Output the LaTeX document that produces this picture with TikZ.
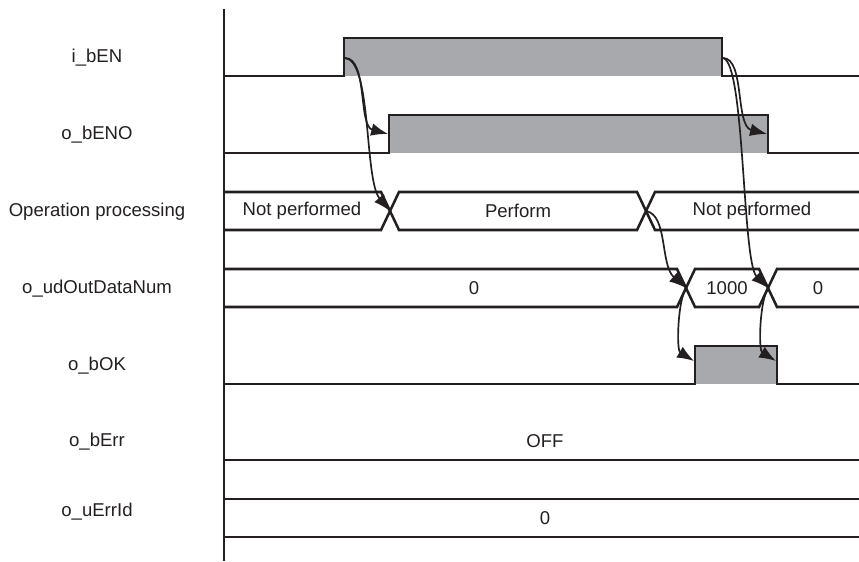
\documentclass[tikz,border=0pt]{standalone}
\usepackage{fontspec}
\setmainfont{Liberation Sans}
\usetikzlibrary{arrows.meta}
\definecolor{ink}{RGB}{35,31,32}
\definecolor{hifill}{RGB}{167,169,172}
\begin{document}
\begin{tikzpicture}[x=0.025cm, y=-0.025cm, color=ink, line width=1.8pt,
			sig/.style={font=\fontsize{13.2}{15}\selectfont},
			val/.style={font=\fontsize{13.2}{15}\selectfont},
			cause/.style={line width=1.2pt, -{Latex[length=12pt,width=9pt]}}]
			
			\useasboundingbox (0,0) rectangle (859,561);
			
			\node[sig] (en) at (97,58) {i\_bEN};
			\node[sig] (eno) at (97,135) {o\_bENO};
			\node[sig] (op) at (97,212) {Operation processing};
			\node[sig] (num) at (97,289) {o\_udOutDataNum};
			\node[sig] (ok) at (97,366) {o\_bOK};
			\node[sig] (err) at (97,442) {o\_bErr};
			\node[sig] (errid) at (97,512) {o\_uErrId};
			
			\fill[hifill] (344,38) rectangle (722,76);
			\fill[hifill] (389,115) rectangle (768,153);
			\fill[hifill] (695,346) rectangle (777,384);
			
			\draw (224,9) -- (224,561);
			
			\draw (224,76) -- (344,76) -- (344,38) -- (722,38) -- (722,76) -- (859,76);
			\draw (224,153) -- (389,153) -- (389,115) -- (768,115) -- (768,153) -- (859,153);
			\draw (224,192) -- (381,192) -- (399,230) -- (637,230) -- (655,192) -- (859,192);
			\draw (224,230) -- (381,230) -- (399,192) -- (637,192) -- (655,230) -- (859,230);
			\draw (224,269) -- (677,269) -- (695,307) -- (759,307) -- (777,269) -- (859,269);
			\draw (224,307) -- (677,307) -- (695,269) -- (759,269) -- (777,307) -- (859,307);
			\draw (224,384) -- (695,384) -- (695,346) -- (777,346) -- (777,384) -- (859,384);
			\draw (224,460) -- (859,460);
			\draw (224,499) -- (859,499);
			\draw (224,537) -- (859,537);
			
			\node[val] (opoff) at (302,211) {Not performed};
			\node[val] (opon) at (518,211) {Perform};
			\node[val] (opoff2) at (752,211) {Not performed};
			\node[val] (numzero) at (474,288) {0};
			\node[val] (numset) at (727,288) {1000};
			\node[val] (numzero2) at (818,288) {0};
			\node[val] (erroff) at (545,441) {OFF};
			\node[val] (idzero) at (545,518) {0};
			
			\coordinate (enRise) at (345,58);
			\coordinate (enFall) at (723,58);
			\coordinate (enoRise) at (388,134);
			\coordinate (enoFall) at (767,134);
			\coordinate (opStart) at (390,211);
			\coordinate (opEnd) at (646,211);
			\coordinate (numSet) at (686,288);
			\coordinate (numClr) at (768,288);
			\coordinate (okRise) at (694,361);
			\coordinate (okFall) at (776,361);
			
			\draw[cause] (enRise) .. controls (368,58) and (358,126) .. (enoRise);
			\draw[cause] (enRise) .. controls (372,60) and (364,180) .. (opStart);
			\draw[cause] (enFall) .. controls (745,58) and (735,126) .. (enoFall);
			\draw[cause] (enFall) .. controls (745,62) and (742,262) .. (numClr);
			\draw[cause] (opEnd) .. controls (668,215) and (660,265) .. (numSet);
			\draw[cause] (numSet) .. controls (678,300) and (676,350) .. (okRise);
			\draw[cause] (numClr) .. controls (760,300) and (758,350) .. (okFall);
			
		\end{tikzpicture}
\end{document}
